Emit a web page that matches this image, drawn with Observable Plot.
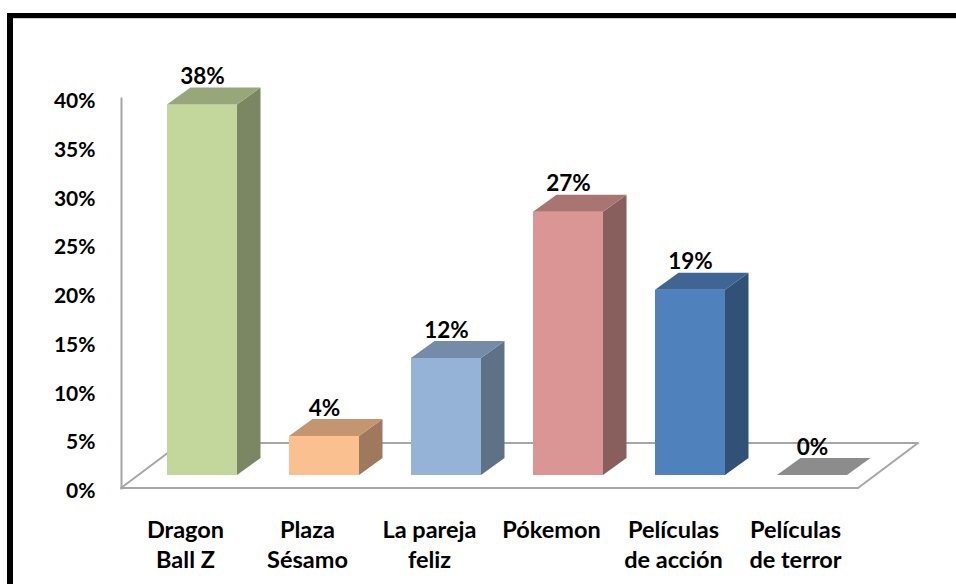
<!DOCTYPE html>
<html><head><meta charset="utf-8">
<script src="https://cdn.jsdelivr.net/npm/d3@7"></script>
<script src="https://cdn.jsdelivr.net/npm/@observablehq/plot@0.6"></script>
<style>
html,body{margin:0;padding:0;background:#fff;width:956px;height:584px;overflow:hidden;position:relative}
#frame{position:absolute;left:7px;top:13px;width:960px;height:600px;border-top:5px solid #000;border-left:6px solid #000;z-index:2;pointer-events:none}
#frame::after{content:"";position:absolute;left:0;top:0;right:0;height:1px;background:#cfcfcf}
#chart{position:absolute;left:0;top:0}
</style></head><body>
<div id="frame"></div>
<div id="chart"></div>
<script>
const categories = ["Dragon Ball Z", "Plaza Sésamo", "La pareja feliz", "Pókemon", "Películas de acción", "Películas de terror"];
const tickLabels = ["Dragon\nBall Z", "Plaza\nSésamo", "La pareja\nfeliz", "Pókemon", "Películas\nde acción", "Películas\nde terror"];
const values = [0.38, 0.04, 0.12, 0.27, 0.19, 0.00];
const yTicks = [0, 0.05, 0.10, 0.15, 0.20, 0.25, 0.30, 0.35, 0.40];
const palette = ["#C3D69B", "#FAC090", "#95B3D7", "#D99694", "#4F81BD", "#B4B4B4"];

const data = categories.map((c, i) => ({category: c, value: values[i], color: palette[i]}));
const fmt = v => Math.round(v * 100) + "%";

// 3D offsets (pixels)
const BAR_DX = 17, BAR_DY = 13;      // bar front offset behind floor front
const DEPTH_X = 23.5, DEPTH_Y = 17;  // bar depth
const FLOOR_X = 60, FLOOR_Y = 45;    // floor depth

const plot = Plot.plot({
  width: 956, height: 584,
  marginLeft: 121, marginRight: 98, marginTop: 98, marginBottom: 96,
  style: {fontFamily: "Lato, 'Open Sans', sans-serif", fontWeight: "bold", color: "#000", background: "transparent", overflow: "visible"},
  x: {domain: categories, paddingInner: 0.43, paddingOuter: 0.215, label: null},
  y: {domain: [0, 0.4], label: null},
  marks: [
    Plot.frame({anchor: "left", stroke: "#a6a6a6", strokeWidth: 2}),
    Plot.axisY({ticks: yTicks, tickSize: 0, tickPadding: 26, tickFormat: fmt, fontSize: 21, dy: 3, label: null}),
    Plot.axisX({tickSize: 0, tickPadding: 28, tickFormat: d => tickLabels[categories.indexOf(d)], fontSize: 23.5, lineHeight: 1.28, label: null}),
    Plot.barY(data, {x: "category", y: "value", fill: "color", dx: BAR_DX, dy: -BAR_DY}),
    Plot.text(data, {x: "category", y: "value", text: d => fmt(d.value), dx: BAR_DX, dy: -BAR_DY - DEPTH_Y - 4, lineAnchor: "bottom", fontSize: 22.5})
  ]
});
document.getElementById("chart").appendChild(plot);

const svg = d3.select(plot);
const xs = plot.scale("x"), ys = plot.scale("y");
const bw = xs.bandwidth;
const [rx0, rx1] = xs.range;
const y0 = ys.apply(0);
const pts = p => p.map(q => q.join(",")).join(" ");

// floor
svg.insert("polygon", ":first-child")
  .attr("points", pts([[rx0, y0], [rx1, y0], [rx1 + FLOOR_X, y0 - FLOOR_Y], [rx0 + FLOOR_X, y0 - FLOOR_Y]]))
  .attr("fill", "#fff").attr("stroke", "#a6a6a6").attr("stroke-width", 2).attr("stroke-linejoin", "round");

const shade = (c, k) => { const r = d3.rgb(c); return d3.rgb(r.r * k, r.g * k, r.b * k).formatHex(); };
const g = svg.append("g").attr("aria-label", "bar-3d");
for (const d of data) {
  const xf = xs.apply(d.category) + BAR_DX;
  const yt = ys.apply(d.value) - BAR_DY;
  const yb = y0 - BAR_DY;
  if (yb - yt > 0.5) {
    g.append("polygon")
      .attr("points", pts([[xf + bw, yt], [xf + bw + DEPTH_X, yt - DEPTH_Y], [xf + bw + DEPTH_X, yb - DEPTH_Y], [xf + bw, yb]]))
      .attr("fill", shade(d.color, 0.63));
  }
  g.append("polygon")
    .attr("points", pts([[xf, yt], [xf + DEPTH_X, yt - DEPTH_Y], [xf + bw + DEPTH_X, yt - DEPTH_Y], [xf + bw, yt]]))
    .attr("fill", shade(d.color, 0.78));
}
// keep value labels on top
svg.selectAll("g[aria-label='text']").each(function() { this.parentNode.appendChild(this); });
</script>
</body></html>
